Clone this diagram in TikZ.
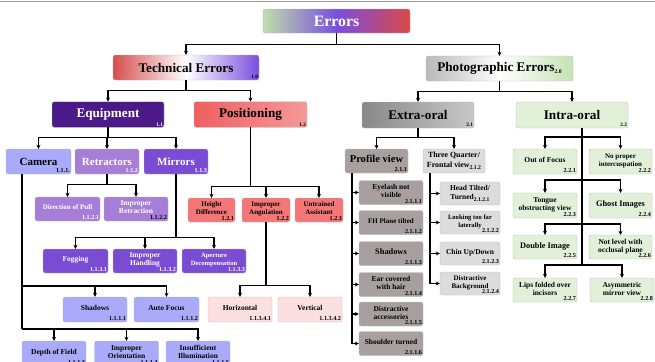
\documentclass[tikz,border=0pt]{standalone}
\usepackage{fontspec}
\setmainfont{Liberation Serif}
\usetikzlibrary{arrows.meta}
\definecolor{errg}{RGB}{190,222,172}
\definecolor{errp}{RGB}{122,78,222}
\definecolor{errr}{RGB}{218,72,72}
\definecolor{techr}{RGB}{214,78,78}
\definecolor{photog}{RGB}{196,226,180}
\definecolor{equipc}{RGB}{76,26,136}
\definecolor{camc}{RGB}{170,170,250}
\definecolor{retc}{RGB}{166,126,216}
\definecolor{mirc}{RGB}{122,76,212}
\definecolor{posl}{RGB}{238,96,96}
\definecolor{posr}{RGB}{246,152,152}
\definecolor{posc}{RGB}{245,118,118}
\definecolor{pinkc}{RGB}{252,224,224}
\definecolor{extl}{RGB}{136,136,136}
\definecolor{extr}{RGB}{200,200,200}
\definecolor{pvc}{RGB}{168,160,160}
\definecolor{tqc}{RGB}{220,220,220}
\definecolor{ioc}{RGB}{226,240,217}
\newcommand\idsub[1]{\raisebox{-2.5pt}{\fontsize{6.5}{6.5}\selectfont #1}}
\tikzstyle{box}=[draw=gray!55, rounded corners=2.5pt, align=center, inner sep=1pt,
  minimum height=9.6mm, font=\bfseries\fontsize{8.5}{9.5}\selectfont]
\tikzstyle{hfont}=[font=\bfseries\fontsize{15}{15}\selectfont]
\tikzstyle{mfont}=[font=\bfseries\fontsize{12.5}{13}\selectfont]
\tikzstyle{sfont}=[font=\bfseries\fontsize{8}{9}\selectfont]
\tikzstyle{idlbl}=[anchor=south east, inner sep=1.2pt, font=\bfseries\fontsize{7}{7}\selectfont]
\tikzstyle{link}=[line width=1.3pt]
\tikzstyle{arr}=[link, -{Stealth[length=4.5pt, width=4.5pt]}]
\tikzset{
  wd/.style={minimum width=#1*0.4mm},
  lift/.style={text depth=#1},
  idn/.style={label={[idlbl]south east:#1}},
  idw/.style={label={[idlbl, text=white]south east:#1}},
  idh/.style={label={[idlbl, font=\bfseries\fontsize{6}{6}\selectfont]south east:#1}},
  idhw/.style={label={[idlbl, text=white, font=\bfseries\fontsize{6}{6}\selectfont]south east:#1}}
}

\begin{document}
\begin{tikzpicture}[x=0.4mm, y=-0.4mm]
  \clip (0,0) rectangle (655,361);
  \draw[gray!80, line width=0.8pt] (0,1) -- (655,1);

  % top levels
  \node[box, wd=147, left color=errg, right color=errr, middle color=errp, text=white,
    font=\bfseries\fontsize{18}{18}\selectfont] (err) at (336.5,21) {Errors};
  \node[box, wd=146, minimum height=10mm, left color=techr, right color=errp, middle color=white,
    hfont, idh=1.0] (tech) at (186,67.5) {Technical Errors};
  \node[box, wd=147, minimum height=10mm, left color=gray!55, right color=photog, middle color=white,
    hfont] (photo) at (499.5,68.5) {Photographic Errors\idsub{2.0}};

  \node[box, wd=112, minimum height=10.2mm, fill=equipc, text=white, hfont, idhw=1.1] (equip) at (108,114.5) {Equipment};
  \node[box, wd=113, minimum height=10.2mm, left color=posl, right color=posr, hfont, idh=1.2] (posi) at (250.5,114.5) {Positioning};
  \node[box, wd=112, minimum height=10.4mm, left color=extl, right color=extr, hfont, idh=2.1] (extra) at (418,115) {Extra-oral};
  \node[box, wd=112, minimum height=10.4mm, fill=ioc, hfont, idh=2.2] (intra) at (572,115) {Intra-oral};

  % equipment
  \node[box, wd=65, minimum height=10mm, fill=camc, mfont, idn=1.1.1.] (cam) at (38.5,161.5) {Camera};
  \node[box, wd=64, minimum height=10mm, fill=retc, text=white, mfont, idw=1.1.2] (ret) at (107,161.5) {Retractors};
  \node[box, wd=64, minimum height=10mm, fill=mirc, text=white, mfont, idw=1.1.3] (mir) at (176,161.5) {Mirrors};

  \node[box, wd=65, fill=retc, text=white, idw=1.1.2.1, sfont, lift=4pt] (dop) at (67.5,209) {Direction of Pull};
  \node[box, wd=64, fill=retc, text=white, idn=1.1.2.2, lift=4pt] (irt) at (136,209) {Improper\\Retraction\hspace{5mm}};

  \node[box, wd=65, fill=mirc, text=white, idw=1.1.3.1, lift=4pt] (fog) at (75.5,261) {Fogging};
  \node[box, wd=64, fill=mirc, text=white, idw=1.1.3.2, lift=4pt] (ihd) at (145,261) {Improper\\Handling\hspace{4mm}};
  \node[box, wd=64, fill=mirc, text=white, idw=1.1.3.3, lift=4pt, font=\bfseries\fontsize{7.5}{8.5}\selectfont] (apd) at (214,261) {Aperture\\Decompensation};

  \node[box, wd=64, minimum height=10mm, fill=camc, idn=1.1.1.1, lift=3pt] (shd) at (95,309.5) {Shadows};
  \node[box, wd=65, minimum height=10mm, fill=camc, idn=1.1.1.2, lift=3pt] (afc) at (166.5,309.5) {Auto Focus};
  \node[box, wd=64, minimum height=10mm, fill=camc, idn=1.1.1.3, lift=4pt] (dof) at (54,353.5) {Depth of Field};
  \node[box, wd=64, minimum height=10mm, fill=camc, idn=1.1.1.4, lift=4pt] (ior) at (126.5,353.5) {Improper\\Orientation};
  \node[box, wd=64, minimum height=10mm, fill=camc, idn=1.1.1.5, lift=4pt] (iil) at (198,353.5) {Insufficient\\Illumination};

  % positioning
  \node[box, wd=47, fill=posc, idn=1.2.1, sfont, lift=4pt] (hgt) at (211.5,210) {Height\\Difference\hspace{3mm}};
  \node[box, wd=48, fill=posc, idn=1.2.2, sfont, lift=4pt] (ian) at (266,210) {Improper\\Angulation\hspace{3mm}};
  \node[box, wd=48, fill=posc, idn=1.2.3, sfont, lift=4pt] (uta) at (319,210) {Untrained\\Assistant\hspace{3mm}};
  \node[box, wd=64, minimum height=10mm, fill=pinkc, idn=1.1.3.4.1, lift=3pt] (hor) at (240,309.5) {Horizontal};
  \node[box, wd=64, minimum height=10mm, fill=pinkc, idn=1.1.3.4.2, lift=3pt] (ver) at (310,309.5) {Vertical};

  % extra-oral
  \node[box, wd=63, fill=pvc, font=\bfseries\fontsize{12}{13}\selectfont, idn=2.1.1, lift=5pt] (pv) at (376.5,161) {Profile view};
  \node[box, wd=62, fill=tqc, font=\bfseries\fontsize{9}{10.5}\selectfont] (tq) at (454,161) {Three Quarter/\\Frontal view\idsub{2.1.2}};
  \node[box, wd=64, fill=pvc, idn=2.1.1.1, lift=3pt] (pv1) at (391,192.5) {Eyelash not\\visible\hspace{4mm}};
  \node[box, wd=64, fill=pvc, idn=2.1.1.2, sfont, lift=4pt] (pv2) at (391,222.5) {FH Plane tilted};
  \node[box, wd=64, fill=pvc, idn=2.1.1.3, lift=4pt, font=\bfseries\fontsize{9.5}{10}\selectfont] (pv3) at (391,253.5) {Shadows};
  \node[box, wd=64, fill=pvc, idn=2.1.1.4, lift=3pt] (pv4) at (391,284.5) {Ear covered\\with hair\hspace{4mm}};
  \node[box, wd=64, fill=pvc, idn=2.1.1.5, lift=3pt] (pv5) at (391,314) {Distractive\\accessories\hspace{2mm}};
  \node[box, wd=64, fill=pvc, idn=2.1.1.6, lift=4pt] (pv6) at (391,343.5) {Shoulder turned};
  \node[box, wd=60, minimum height=9.2mm, fill=tqc] (tq1) at (470,193.5) {Head Tilted/\\Turned\idsub{2.1.2.1}};
  \node[box, wd=60, minimum height=9.2mm, fill=tqc, idn=2.1.2.2, lift=3pt, font=\bfseries\fontsize{7.5}{8.5}\selectfont] (tq2) at (470,222.5) {Looking too far\\laterally};
  \node[box, wd=60, minimum height=9.2mm, fill=tqc, idn=2.1.2.3, lift=4pt] (tq3) at (470,253.5) {Chin Up/Down};
  \node[box, wd=60, minimum height=9.2mm, fill=tqc, idn=2.1.2.4, sfont, lift=3pt] (tq4) at (470,283.5) {Distractive\\Background\hspace{6mm}};

  % intra-oral
  \node[box, wd=64, minimum height=10mm, fill=ioc, idn=2.2.1, lift=4pt] (oof) at (545,161.5) {Out of Focus};
  \node[box, wd=63, minimum height=10mm, fill=ioc, idn=2.2.2, sfont, lift=3pt] (npi) at (620.5,161.5) {No proper\\intercuspation};
  \node[box, wd=64, minimum height=10mm, fill=ioc, idn=2.2.3, lift=3pt] (tov) at (545,205.5) {Tongue\\obstructing view};
  \node[box, wd=63, minimum height=10mm, fill=ioc, idn=2.2.4, lift=4pt, font=\bfseries\fontsize{9.5}{10}\selectfont] (ghi) at (620.5,205.5) {Ghost Images};
  \node[box, wd=64, fill=ioc, idn=2.2.5, lift=4pt, font=\bfseries\fontsize{9.5}{10}\selectfont] (dbi) at (545,247) {Double Image};
  \node[box, wd=63, fill=ioc, idn=2.2.6, lift=3pt] (nlo) at (620.5,247) {Not level with\\occlusal plane};
  \node[box, wd=64, fill=ioc, idn=2.2.7, lift=3pt] (lfi) at (545,290) {Lips folded over\\incisors\hspace{4mm}};
  \node[box, wd=64, fill=ioc, idn=2.2.8, lift=3pt] (amv) at (622,290) {Asymmetric\\mirror view};

  % trunks
  \coordinate (camt) at (22,174);
  \coordinate (camj1) at (22,286);
  \coordinate (camj2) at (22,329);
  \coordinate (pvt) at (352,173);
  \coordinate (tqt) at (430,173);
  \coordinate (iot) at (582,128);
  \coordinate (ioj1) at (582,137);
  \coordinate (ioj2) at (582,180);
  \coordinate (ioj3) at (582,224);
  \coordinate (ioj4) at (582,265);

  \draw[arr] (err.south) -- ++(0,11) -| (tech);
  \draw[arr] (err.south) -- ++(0,11) -| (photo);
  \draw[arr] (tech.south) -- ++(0,10) -| (equip);
  \draw[arr] (tech.south) -- ++(0,10) -| (posi);
  \draw[arr] (photo.south) -- ++(0,10) -| (extra);
  \draw[arr] (photo.south) -- ++(0,10) -| (intra);

  \foreach \c in {cam,ret,mir}
    \draw[arr] (equip.south) -- ++(0,10) -| (\c);
  \foreach \c in {dop,irt}
    \draw[arr] (ret.south) -- ++(0,10) -| (\c);
  \foreach \c in {fog,ihd,apd}
    \draw[arr] (mir.south) -- ++(0,63) -| (\c);
  \draw[link] (camt) -- (camj2);
  \foreach \c in {shd,afc}
    \draw[arr] (camj1) -| (\c);
  \foreach \c in {dof,ior,iil}
    \draw[arr] (camj2) -| (\c);

  \foreach \c in {hgt,ian,uta}
    \draw[arr] (posi.south) -- ++(0,59) -| (\c);
  \foreach \c in {hor,ver}
    \draw[arr] (ian.south) -- ++(0,63) -| (\c);

  \foreach \c in {pv,tq}
    \draw[arr] (extra.south) -- ++(0,9) -| (\c);
  \foreach \c in {pv1,pv2,pv3,pv4,pv5,pv6}
    \draw[arr] (pvt) |- (\c);
  \foreach \c in {tq1,tq2,tq3,tq4}
    \draw[arr] (tqt) |- (\c);

  \draw[link] (iot) -- (ioj4);
  \foreach \c in {oof,npi}
    \draw[arr] (ioj1) -| (\c);
  \foreach \c in {tov,ghi}
    \draw[arr] (ioj2) -| (\c);
  \foreach \c in {dbi,nlo}
    \draw[arr] (ioj3) -| (\c);
  \foreach \c in {lfi,amv}
    \draw[arr] (ioj4) -| (\c);
\end{tikzpicture}
\end{document}
